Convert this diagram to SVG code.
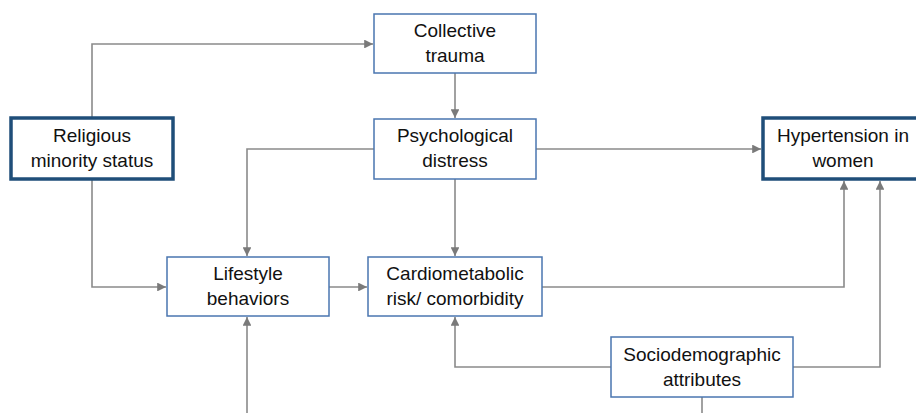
<svg xmlns="http://www.w3.org/2000/svg" width="916" height="413" viewBox="0 0 916 413">
<defs>
<style>
.box{fill:#fff;stroke:#4a76b0;stroke-width:1.5}
.key{fill:#fff;stroke:#1f4e79;stroke-width:3.5}
.t{font-family:"Liberation Sans",Arial,sans-serif;font-size:19px;fill:#111;text-anchor:middle}
.c{fill:none;stroke:#8a8a8a;stroke-width:1.6;marker-end:url(#ah)}
.n{fill:none;stroke:#8a8a8a;stroke-width:1.6}
</style>
<marker id="ah" viewBox="0 0 10 10" refX="10" refY="5" markerWidth="5.5" markerHeight="5.5" orient="auto" markerUnits="strokeWidth">
<path d="M0,0 L10,5 L0,10 z" fill="#7a7a7a"/>
</marker>
</defs>
<rect width="916" height="413" fill="#fff"/>
<g id="connectors">
<path class="c" d="M92,117 V44 H373"/>
<path class="c" d="M455,73 V118"/>
<path class="c" d="M374,149 H247 V256"/>
<path class="c" d="M455,179 V256"/>
<path class="c" d="M536,149 H761"/>
<path class="c" d="M92,180 V287 H166"/>
<path class="c" d="M329,287 H367"/>
<path class="c" d="M542,287 H844 V181"/>
<path class="c" d="M793,367 H880 V181"/>
<path class="c" d="M611,367 H455 V317"/>
<path class="n" d="M702,397 V413"/>
<path class="c" d="M247,413 V317"/>
</g>
<g id="collective-trauma">
<rect class="box" x="374" y="14" width="162" height="59"/>
<text class="t" x="455" y="37">Collective</text>
<text class="t" x="455" y="62">trauma</text>
</g>
<g id="psychological-distress">
<rect class="box" x="374" y="119" width="162" height="60"/>
<text class="t" x="455" y="142">Psychological</text>
<text class="t" x="455" y="167">distress</text>
</g>
<g id="religious-minority">
<rect class="key" x="11" y="118" width="162" height="61"/>
<text class="t" x="92" y="142">Religious</text>
<text class="t" x="92" y="167">minority status</text>
</g>
<g id="hypertension">
<rect class="key" x="763" y="118" width="162" height="61"/>
<text class="t" x="843" y="142">Hypertension in</text>
<text class="t" x="843" y="167">women</text>
</g>
<g id="lifestyle">
<rect class="box" x="167" y="257" width="162" height="59"/>
<text class="t" x="248" y="280">Lifestyle</text>
<text class="t" x="248" y="305">behaviors</text>
</g>
<g id="cardiometabolic">
<rect class="box" x="368" y="257" width="174" height="59"/>
<text class="t" x="455" y="280">Cardiometabolic</text>
<text class="t" x="455" y="305">risk/ comorbidity</text>
</g>
<g id="sociodemographic">
<rect class="box" x="611" y="337" width="182" height="60"/>
<text class="t" x="702" y="361">Sociodemographic</text>
<text class="t" x="702" y="386">attributes</text>
</g>
</svg>
